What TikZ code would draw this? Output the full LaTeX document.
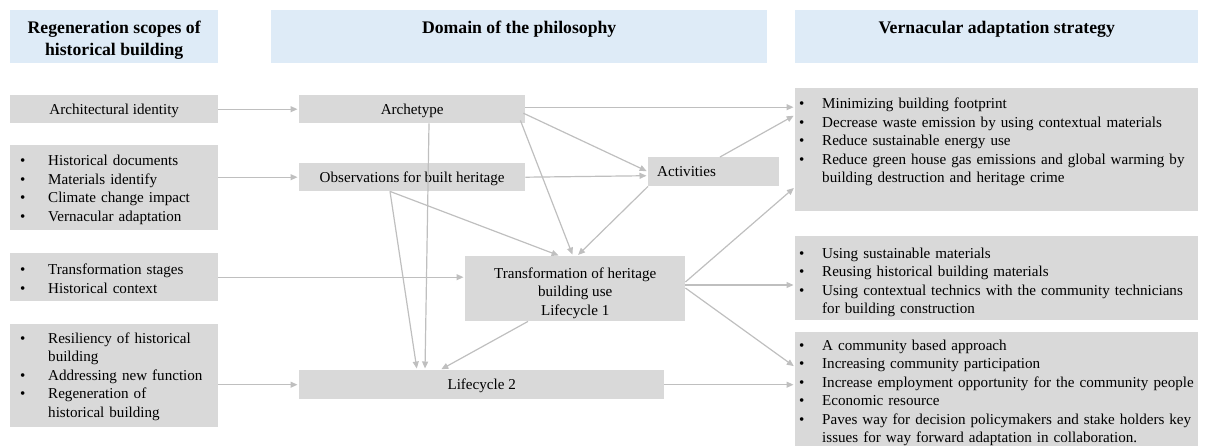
\documentclass[tikz,border=0pt]{standalone}
\usepackage{fontspec}
\setmainfont{Liberation Serif}
\usetikzlibrary{arrows.meta,calc}
\definecolor{boxgray}{HTML}{D9D9D9}
\definecolor{headblue}{HTML}{DEEBF7}
\definecolor{linegray}{HTML}{BFBFBF}
\hyphenpenalty=10000 \exhyphenpenalty=10000
\newcommand\bodyfont{\fontsize{15.1}{18.5}\selectfont}
\newcommand\headfont{\fontsize{17.7}{22}\selectfont\bfseries}
\newcommand\litem[1]{\noindent\hangindent=28pt\hangafter=1\makebox[28pt][l]{\textbullet}#1\par}
\newcommand\ritem[1]{\noindent\hangindent=27pt\hangafter=1\makebox[27pt][l]{\hspace*{4pt}\textbullet}#1\par}
\newcommand\tstrut[1]{\rule{0pt}{#1}}
\tikzset{
  hd/.style={fill=headblue, draw=none, anchor=north west, inner sep=0pt, font=\headfont},
  gbox/.style={fill=boxgray, draw=none, anchor=north west, inner sep=0pt, font=\bodyfont},
  one/.style={text height=12.5pt, text depth=2.5pt},
  lbox/.style={gbox, minimum width=208pt, text width=188pt, inner xsep=10pt, align=left},
  rbox/.style={gbox, minimum width=403pt, text width=403pt, inner xsep=0pt, align=left},
  conn/.style={draw=linegray, line width=1.2pt, -{Triangle[length=7pt,width=6pt]}, shorten >=1.5pt},
}
\begin{document}
\begin{tikzpicture}[x=1pt,y=-1pt]
\useasboundingbox (0,0) rectangle (1206,447);
% headers
\node[hd, minimum width=208pt, minimum height=53pt] (h1) at (10,10) {};
\node[font=\headfont, align=center, inner sep=0pt, anchor=north] (h1t) at ($(h1.north)+(0,11)$) {Regeneration scopes of\\historical building};
\node[hd, minimum width=496pt, text height=23pt, text depth=30pt] (h2) at (271,10) {Domain of the philosophy};
\node[hd, minimum width=403pt, text height=23pt, text depth=30pt] (h3) at (795,10) {Vernacular adaptation strategy};
% left column
\node[gbox, one, minimum width=208pt, minimum height=28pt] (l1) at (10,95) {Architectural identity};
\node[lbox, minimum height=85pt] (l2) at (10,145) {\litem{\tstrut{15pt}Historical documents}\litem{Materials identify}\litem{Climate change impact}\litem{Vernacular adaptation}};
\node[lbox, minimum height=48pt] (l3) at (10,253) {\litem{\tstrut{13.5pt}Transformation stages}\litem{Historical context}};
\node[lbox, minimum height=103pt] (l4) at (10,324) {\litem{\tstrut{12.5pt}Resiliency of historical\newline building}\litem{Addressing new function}\litem{Regeneration of\newline historical building}};
% middle column
\node[gbox, one, minimum width=226pt, minimum height=28pt] (arch) at (299,95) {Archetype};
\node[gbox, one, minimum width=226pt, minimum height=28pt] (obs) at (299,163) {Observations for built heritage};
\node[gbox, one, minimum width=131pt, minimum height=29pt, text width=113pt, inner xsep=9pt, align=left] (act) at (648,157) {Activities};
\node[gbox, minimum width=220pt, minimum height=65pt, align=center] (trans) at (465,256) {\tstrut{19pt}Transformation of heritage\\building use\\Lifecycle 1};
\node[gbox, one, minimum width=365pt, minimum height=29pt] (lc2) at (299,370) {Lifecycle 2};
% right column
\node[rbox, minimum height=123pt] (r1) at (795,88) {\ritem{Minimizing building footprint}\ritem{Decrease waste emission by using contextual materials}\ritem{Reduce sustainable energy use}\ritem{Reduce green house gas emissions and global warming by\newline building destruction and heritage crime}\noindent\rule{0pt}{1pt}\par};
\node[rbox, minimum height=84pt] (r2) at (795,236) {\ritem{\tstrut{18.5pt}Using sustainable materials}\ritem{Reusing historical building materials}\ritem{Using contextual technics with the community technicians\newline for building construction}};
\node[rbox, minimum height=114pt] (r3) at (795,332) {\ritem{\tstrut{18pt}A community based approach}\ritem{Increasing community participation}\ritem{Increase employment opportunity for the community people}\ritem{Economic resource}\ritem{Paves way for decision policymakers and stake holders key\newline issues for way forward adaptation in collaboration.}};
% connectors
\draw[conn] (l1.east) -- (arch.west);
\draw[conn] (l2.east |- obs.west) -- (obs.west);
\draw[conn] (l3.east) -- (l3.east -| trans.west);
\draw[conn] (l4.east |- lc2.west) -- (lc2.west);
\draw[conn] ([yshift=2pt]arch.east) -- ([yshift=2pt]arch.east -| r1.west);
\draw[conn] ($(arch.east)+(-2,4)$) -- (act.west);
\draw[conn] (obs.east) -- ($(act.west)+(0,4)$);
\draw[conn] ($(arch.south east)+(-5,-3)$) -- ($(trans.north west)+(108,0)$);
\draw[conn] (act.south west) -- ($(trans.north west)+(112,0)$);
\draw[conn] ($(obs.south west)+(91,0)$) -- ($(trans.north west)+(95,0)$);
\draw[conn] ($(obs.south west)+(91,0)$) -- ($(lc2.north west)+(118,0)$);
\draw[conn] ($(arch.south west)+(130,0)$) -- ($(lc2.north west)+(126,0)$);
\draw[conn] ($(trans.south west)+(63,0)$) -- ($(lc2.north west)+(141,0)$);
\draw[conn] ($(act.north west)+(72,0)$) -- ($(r1.north west)+(0,27)$);
\draw[conn] ($(trans.north east)+(0,26)$) -- ($(r1.north west)+(0,99)$);
\draw[conn] ($(trans.north east)+(0,29)$) coordinate (t2) -- (t2 -| r2.west);
\draw[conn] ($(trans.north east)+(0,32)$) -- ($(r3.north west)+(0,35)$);
\draw[conn] (lc2.east) -- (lc2.east -| r3.west);
\end{tikzpicture}
\end{document}
